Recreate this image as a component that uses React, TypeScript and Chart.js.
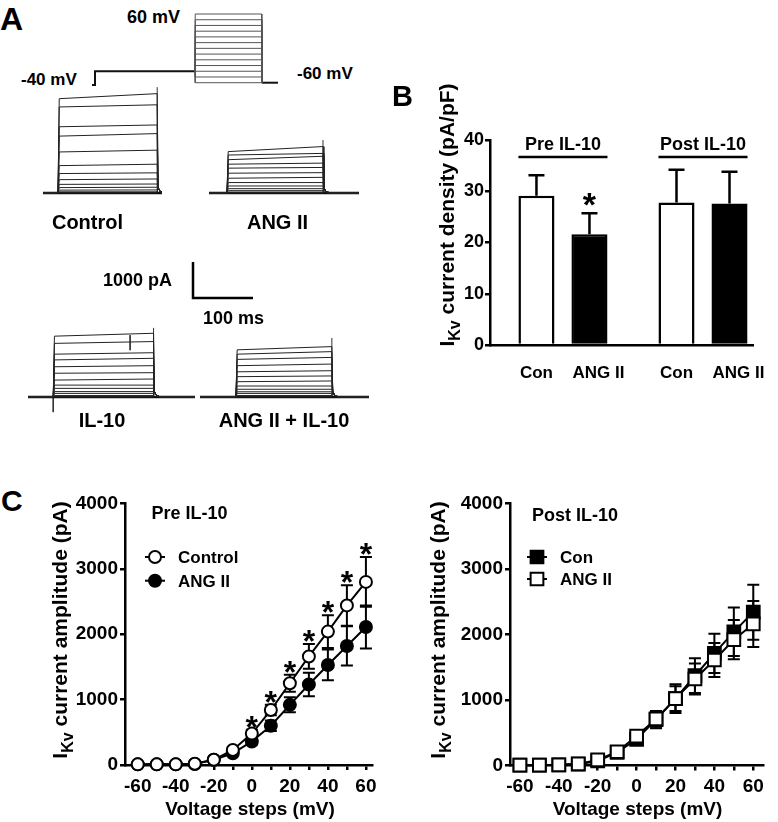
import React, { useEffect, useRef } from 'react';
import { Chart, registerables } from 'chart.js';

Chart.register(...registerables);

const FONT = '"Liberation Sans", Arial, Helvetica, sans-serif';
const bold = (s: number) => `bold ${s}px ${FONT}`;
Chart.defaults.font.family = FONT;
Chart.defaults.color = '#000';

// ---------------- Panel A : voltage protocol ----------------
const protocolStepsMv = [-60, -50, -40, -30, -20, -10, 0, 10, 20, 30, 40, 50, 60];
const protocolPhaseMs = [0, 5, 172, 283, 310]; // start, holding on, step on, step off, end
const protocolLevelsMv = [-64, -40, -60]; // pre, holding, tail

// ---------------- Panel A : current traces (pA) ----------------
const traceNames = ['Control', 'ANG II', 'IL-10', 'ANG II + IL-10'];
const traceControlStart = [2620, 2390, 1840, 1580, 1140, 760, 540, 370, 240, 150, 80, 30, 10];
const traceControlEnd = [2760, 2450, 1890, 1650, 1190, 800, 560, 390, 250, 160, 85, 30, 10];
const traceAngStart = [1150, 1055, 925, 800, 690, 550, 410, 290, 195, 120, 65, 20, 5];
const traceAngEnd = [1290, 1100, 1020, 830, 710, 565, 435, 290, 195, 120, 65, 20, 5];
const traceIl10Start = [1690, 1490, 1190, 1030, 840, 660, 470, 330, 240, 150, 100, 40, 10];
const traceIl10End = [1770, 1540, 1230, 1075, 870, 675, 500, 330, 240, 150, 100, 40, 10];
const traceAngIl10Start = [1310, 1190, 1045, 870, 700, 565, 425, 305, 215, 145, 100, 40, 10];
const traceAngIl10End = [1400, 1260, 1100, 915, 730, 585, 445, 305, 215, 145, 100, 40, 10];
const traceStartMs = [-25, -30, -42, -60];
const traceOffMs = [165, 160, 167, 160];
const traceEndMs = [173, 220, 236, 222];
const traceTailSpikePa = [2940, 1470, 1920, 1640];
const traceRiseMs = 2;
const traceTailMs = [1.5, 5, 12];
const traceTailPa = [150, 40, 0];
const il10ArtifactMs = [0, 128];
const il10ArtifactPa = [[0, -420], [1720, 1300]];
const scaleBarMs = 100;
const scaleBarPa = 1000;

// ---------------- Panel B : current density ----------------
const densityGroups = ['Pre IL-10', 'Post IL-10'];
const densityTreatments = ['Con', 'ANG II'];
const densityCon = [29.1, 27.8];
const densityConErr = [4.0, 6.4];
const densityAng = [21.6, 27.6];
const densityAngErr = [4.1, 6.2];
const densityAngStars = ['*', ''];
const densityTicks = [0, 10, 20, 30, 40];

// ---------------- Panel C : I-V curves ----------------
const voltageSteps = [-60, -50, -40, -30, -20, -10, 0, 10, 20, 30, 40, 50, 60];
const voltageTickLabels = ['-60', '', '-40', '', '-20', '', '0', '', '20', '', '40', '', '60'];
const currentTicks = [0, 1000, 2000, 3000, 4000];
const preControl = [10, 10, 10, 20, 80, 230, 480, 840, 1250, 1660, 2040, 2440, 2800];
const preControlErr = [5, 5, 5, 8, 20, 30, 60, 80, 130, 190, 250, 310, 380];
const preControlStars = ['', '', '', '', '', '', '*', '*', '*', '*', '*', '*', '*'];
const preAng = [10, 10, 10, 15, 80, 180, 360, 600, 920, 1230, 1530, 1820, 2110];
const preAngErr = [5, 5, 5, 8, 15, 30, 50, 80, 115, 180, 235, 300, 330];
const postCon = [5, 5, 10, 20, 70, 200, 400, 700, 1020, 1370, 1710, 2040, 2340];
const postConErr = [5, 5, 5, 10, 20, 30, 70, 130, 220, 265, 300, 370, 420];
const postAng = [5, 5, 10, 25, 85, 210, 450, 710, 1020, 1320, 1610, 1920, 2160];
const postAngErr = [5, 5, 5, 10, 20, 30, 60, 120, 190, 235, 260, 300, 350];

const AXIS_W = 2.5;

const baseOptions = () => ({
  responsive: false,
  animation: false,
  devicePixelRatio: 1,
  events: [],
  plugins: { legend: { display: false }, tooltip: { enabled: false } },
});

function drawIkvTitle(ctx: any, baseX: number, centerY: number, rest: string, size: number) {
  ctx.save();
  ctx.translate(baseX, centerY);
  ctx.rotate(-Math.PI / 2);
  ctx.fillStyle = '#000';
  ctx.textBaseline = 'alphabetic';
  ctx.textAlign = 'left';
  const main = bold(size);
  const sub = bold(Math.round(size * 0.75));
  ctx.font = main;
  const wI = ctx.measureText('I').width;
  const wRest = ctx.measureText(rest).width;
  ctx.font = sub;
  const wSub = ctx.measureText('Kv').width;
  let x = -(wI + wSub + wRest) / 2;
  ctx.font = main;
  ctx.fillText('I', x, 0);
  x += wI;
  ctx.font = sub;
  ctx.fillText('Kv', x, size * 0.28);
  x += wSub;
  ctx.font = main;
  ctx.fillText(rest, x, 0);
  ctx.restore();
}

function lineDs(points: any[], width: number, color = '#111') {
  return {
    data: points,
    showLine: true,
    borderColor: color,
    borderWidth: width,
    pointRadius: 0,
    tension: 0,
    clip: false,
  };
}

function protocolConfig(): any {
  const [t0, tHold, tOn, tOff, tEnd] = protocolPhaseMs;
  const [vPre, vHold, vTail] = protocolLevelsMv;
  const datasets: any[] = protocolStepsMv.map((v) =>
    lineDs(
      [
        { x: tOn, y: vHold },
        { x: tOn, y: v },
        { x: tOff, y: v },
        { x: tOff, y: vTail },
      ],
      1,
      '#555'
    )
  );
  datasets.push(
    lineDs(
      [
        { x: t0, y: vPre },
        { x: tHold, y: vPre },
        { x: tHold, y: vHold },
        { x: tOn, y: vHold },
      ],
      2
    )
  );
  datasets.push(lineDs([{ x: tOff, y: vTail }, { x: tEnd, y: vTail }], 2));
  return {
    type: 'scatter',
    data: { datasets },
    options: {
      ...baseOptions(),
      layout: { padding: { left: 4, top: 6, right: 6, bottom: 9 } },
      scales: {
        x: { type: 'linear', display: false, min: t0, max: tEnd },
        y: { type: 'linear', display: false, min: vPre, max: 60 },
      },
    },
  };
}

function traceConfig(k: number): any {
  const starts = [traceControlStart, traceAngStart, traceIl10Start, traceAngIl10Start][k];
  const ends = [traceControlEnd, traceAngEnd, traceIl10End, traceAngIl10End][k];
  const tPre = traceStartMs[k];
  const tOff = traceOffMs[k];
  const tEnd = traceEndMs[k];
  const datasets: any[] = starts.map((s, i) =>
    lineDs(
      [
        { x: tPre, y: 0 },
        { x: 0, y: 0 },
        { x: traceRiseMs, y: s },
        { x: tOff, y: ends[i] },
        ...traceTailMs.map((t, j) => ({ x: tOff + t, y: traceTailPa[j] })),
        { x: tEnd, y: 0 },
      ],
      1,
      '#222'
    )
  );
  datasets.push(lineDs([{ x: tPre, y: 0 }, { x: tEnd, y: 0 }], 2.5, '#111'));
  datasets.push(lineDs([{ x: tOff, y: 0 }, { x: tOff, y: traceTailSpikePa[k] }], 1, '#333'));
  if (traceNames[k] === 'IL-10') {
    il10ArtifactMs.forEach((t, j) => {
      datasets.push(
        lineDs([{ x: t, y: il10ArtifactPa[j][0] }, { x: t, y: il10ArtifactPa[j][1] }], 1, '#333')
      );
    });
  }
  return {
    type: 'scatter',
    data: { datasets },
    options: {
      ...baseOptions(),
      layout: { padding: 0 },
      scales: {
        x: { type: 'linear', display: false, min: tPre, max: tEnd },
        y: { type: 'linear', display: false, min: -500, max: 3000 },
      },
    },
  };
}

function scaleBarConfig(): any {
  return {
    type: 'scatter',
    data: {
      datasets: [
        lineDs(
          [
            { x: 0, y: scaleBarPa },
            { x: 0, y: 0 },
            { x: scaleBarMs, y: 0 },
          ],
          2.5,
          '#000'
        ),
      ],
    },
    options: {
      ...baseOptions(),
      layout: { padding: { left: 5, top: 6, right: 5, bottom: 6 } },
      scales: {
        x: { type: 'linear', display: false, min: 0, max: scaleBarMs },
        y: { type: 'linear', display: false, min: 0, max: scaleBarPa },
      },
    },
  };
}

const densityPlugin = {
  id: 'densityDecor',
  afterDatasetsDraw(chart: any, _a: any, o: any) {
    const { ctx } = chart;
    const ys = chart.scales.y;
    ctx.save();
    ctx.strokeStyle = '#000';
    ctx.fillStyle = '#000';
    ctx.lineWidth = 2.5;
    chart.data.datasets.forEach((ds: any, i: number) => {
      const meta = chart.getDatasetMeta(i);
      meta.data.forEach((bar: any, j: number) => {
        const v = ds.data[j].y;
        const yt = ys.getPixelForValue(v + ds.errors[j]);
        ctx.beginPath();
        ctx.moveTo(bar.x, bar.y);
        ctx.lineTo(bar.x, yt);
        ctx.moveTo(bar.x - 8, yt);
        ctx.lineTo(bar.x + 8, yt);
        ctx.stroke();
        if (ds.stars && ds.stars[j]) {
          ctx.font = bold(34);
          ctx.textAlign = 'center';
          ctx.textBaseline = 'alphabetic';
          ctx.fillText(ds.stars[j], bar.x, yt - 17 + 34 * 0.57);
        }
        ctx.font = bold(17);
        ctx.textAlign = 'center';
        ctx.textBaseline = 'alphabetic';
        ctx.fillText(ds.label, bar.x + (i === 1 ? o.secondLabelShift : 0), o.labelBase);
      });
    });
    const m0 = chart.getDatasetMeta(0);
    const m1 = chart.getDatasetMeta(1);
    densityGroups.forEach((g, j) => {
      const l = m0.data[j].x - m0.data[j].width / 2;
      const r = m1.data[j].x + m1.data[j].width / 2;
      ctx.lineWidth = 2.5;
      ctx.beginPath();
      ctx.moveTo(l, o.groupLineY);
      ctx.lineTo(r, o.groupLineY);
      ctx.stroke();
      ctx.font = bold(18);
      ctx.textAlign = 'center';
      ctx.fillText(g, (l + r) / 2, o.groupTextBase);
    });
    ctx.restore();
    drawIkvTitle(ctx, o.titleX, o.titleY, ' current density (pA/pF)', 21);
  },
};

function densityConfig(): any {
  const mk = (label: string, vals: number[], errs: number[], fill: string, stars: string[]) => ({
    label,
    data: densityGroups.map((_, i) => ({ x: i, y: vals[i] })),
    errors: errs,
    stars,
    backgroundColor: fill,
    borderColor: '#000',
    borderWidth: 2.5,
    borderSkipped: 'start',
    categoryPercentage: 0.757,
    barPercentage: 0.68,
  });
  return {
    type: 'bar',
    data: {
      datasets: [
        mk(densityTreatments[0], densityCon, densityConErr, '#fff', ['', '']),
        mk(densityTreatments[1], densityAng, densityAngErr, '#000', densityAngStars),
      ],
    },
    options: {
      ...baseOptions(),
      layout: { padding: { left: 0, top: 60, right: 25, bottom: 0 } },
      scales: {
        x: {
          type: 'linear',
          offset: false,
          min: -0.521,
          max: 1.357,
          afterBuildTicks: (s: any) => {
            s.ticks = densityGroups.map((_, i) => ({ value: i }));
          },
          ticks: { display: false },
          grid: { display: false },
          border: { display: true, color: '#000', width: AXIS_W },
          afterFit: (s: any) => {
            s.height = 45;
          },
        },
        y: {
          type: 'linear',
          min: 0,
          max: 40,
          afterBuildTicks: (s: any) => {
            s.ticks = densityTicks.map((v) => ({ value: v }));
          },
          ticks: { font: { size: 18, weight: 'bold' }, color: '#000', padding: 1, callback: (v: any) => String(v) },
          grid: { display: true, drawOnChartArea: false, drawTicks: true, tickLength: 5, color: '#000', lineWidth: AXIS_W },
          border: { display: true, color: '#000', width: AXIS_W },
          afterFit: (s: any) => {
            s.width = 100;
          },
        },
      },
      plugins: {
        ...baseOptions().plugins,
        densityDecor: {
          labelBase: 297.5,
          secondLabelShift: 9,
          groupLineY: 77,
          groupTextBase: 69.5,
          titleX: 64,
          titleY: 135,
        },
      },
    },
    plugins: [densityPlugin],
  };
}

const ivPlugin = {
  id: 'ivDecor',
  beforeDatasetsDraw(chart: any) {
    const { ctx } = chart;
    const ys = chart.scales.y;
    ctx.save();
    ctx.strokeStyle = '#000';
    ctx.lineWidth = 2;
    chart.data.datasets.forEach((ds: any, i: number) => {
      const meta = chart.getDatasetMeta(i);
      meta.data.forEach((pt: any, j: number) => {
        const v = ds.data[j].y;
        const e = ds.errors[j];
        const yt = ys.getPixelForValue(v + e);
        const yb = ys.getPixelForValue(v - e);
        ctx.beginPath();
        ctx.moveTo(pt.x, yt);
        ctx.lineTo(pt.x, yb);
        ctx.moveTo(pt.x - 6, yt);
        ctx.lineTo(pt.x + 6, yt);
        ctx.moveTo(pt.x - 6, yb);
        ctx.lineTo(pt.x + 6, yb);
        ctx.stroke();
      });
    });
    ctx.restore();
  },
  afterDatasetsDraw(chart: any, _a: any, o: any) {
    const { ctx } = chart;
    const ys = chart.scales.y;
    ctx.save();
    ctx.fillStyle = '#000';
    ctx.textAlign = 'center';
    ctx.textBaseline = 'alphabetic';
    ctx.font = bold(32);
    chart.data.datasets.forEach((ds: any, i: number) => {
      if (!ds.stars) return;
      const meta = chart.getDatasetMeta(i);
      meta.data.forEach((pt: any, j: number) => {
        if (!ds.stars[j]) return;
        const yt = ys.getPixelForValue(ds.data[j].y + ds.errors[j]);
        ctx.fillText(ds.stars[j], pt.x, yt - 10 + 32 * 0.57);
      });
    });
    chart.data.datasets.forEach((ds: any, i: number) => {
      const y = o.legendRows[i];
      ctx.strokeStyle = '#000';
      ctx.lineWidth = 2;
      ctx.beginPath();
      ctx.moveTo(o.legendLine[0], y);
      ctx.lineTo(o.legendLine[1], y);
      ctx.stroke();
      const mx = (o.legendLine[0] + o.legendLine[1]) / 2;
      ctx.fillStyle = ds.pointBackgroundColor;
      ctx.beginPath();
      if (ds.pointStyle === 'circle') ctx.arc(mx, y, ds.pointRadius, 0, Math.PI * 2);
      else {
        const h = ds.pointRadius * Math.SQRT1_2;
        ctx.rect(mx - h, y - h, 2 * h, 2 * h);
      }
      ctx.fill();
      ctx.stroke();
      ctx.fillStyle = '#000';
      ctx.font = bold(17);
      ctx.textAlign = 'left';
      ctx.fillText(ds.label, o.legendTextX, y + 17 * 0.358);
    });
    ctx.font = bold(18);
    ctx.textAlign = 'center';
    ctx.fillText(o.title, o.titleX, o.titleBase);
    ctx.font = bold(19);
    ctx.fillText('Voltage steps (mV)', o.xTitleX, o.xTitleBase);
    ctx.restore();
    drawIkvTitle(ctx, o.yTitleX, o.yTitleY, ' current amplitude (pA)', 21);
  },
};

function ivConfig(side: 'pre' | 'post'): any {
  const mk = (label: string, vals: number[], errs: number[], shape: string, filled: boolean, order: number, stars?: string[]) => ({
    label,
    data: voltageSteps.map((v, i) => ({ x: v, y: vals[i] })),
    errors: errs,
    stars,
    showLine: true,
    borderColor: '#000',
    borderWidth: 2,
    tension: 0,
    pointStyle: shape,
    pointRadius: shape === 'circle' ? 6 : 9,
    pointBackgroundColor: filled ? '#000' : '#fff',
    pointBorderColor: '#000',
    pointBorderWidth: 2,
    order,
    clip: false,
  });
  const pre = side === 'pre';
  const datasets = pre
    ? [
        mk('Control', preControl, preControlErr, 'circle', false, 1, preControlStars),
        mk('ANG II', preAng, preAngErr, 'circle', true, 2),
      ]
    : [mk('Con', postCon, postConErr, 'rect', true, 2), mk('ANG II', postAng, postAngErr, 'rect', false, 1)];
  const tickFont = { size: 19, weight: 'bold' };
  return {
    type: 'scatter',
    data: { datasets },
    options: {
      ...baseOptions(),
      layout: { padding: { left: 0, top: 12, right: pre ? 18 : 15, bottom: 0 } },
      scales: {
        x: {
          type: 'linear',
          min: pre ? -66.7 : -65.1,
          max: pre ? 63.2 : 65,
          afterBuildTicks: (s: any) => {
            s.ticks = voltageSteps.map((v) => ({ value: v }));
          },
          ticks: {
            font: tickFont,
            color: '#000',
            padding: 5,
            maxRotation: 0,
            autoSkip: false,
            callback: (_v: any, i: number) => voltageTickLabels[i],
          },
          grid: { display: true, drawOnChartArea: false, drawTicks: true, tickLength: 5, color: '#000', lineWidth: AXIS_W },
          border: { display: true, color: '#000', width: AXIS_W },
          afterFit: (s: any) => {
            s.height = pre ? 57 : 56.5;
          },
        },
        y: {
          type: 'linear',
          min: 0,
          max: 4000,
          afterBuildTicks: (s: any) => {
            s.ticks = currentTicks.map((v) => ({ value: v }));
          },
          ticks: { font: tickFont, color: '#000', padding: 2, callback: (v: any) => String(v) },
          grid: { display: true, drawOnChartArea: false, drawTicks: true, tickLength: 5, color: '#000', lineWidth: AXIS_W },
          border: { display: true, color: '#000', width: AXIS_W },
          afterFit: (s: any) => {
            s.width = pre ? 125 : 120;
          },
        },
      },
      plugins: {
        ...baseOptions().plugins,
        ivDecor: pre
          ? {
              legendRows: [67, 90.7],
              legendLine: [145, 165],
              legendTextX: 178,
              title: 'Pre IL-10',
              titleX: 189.5,
              titleBase: 29,
              xTitleX: 250,
              xTitleBase: 325,
              yTitleX: 67,
              yTitleY: 140,
            }
          : {
              legendRows: [67, 89],
              legendLine: [137, 157],
              legendTextX: 170,
              title: 'Post IL-10',
              titleX: 185,
              titleBase: 31,
              xTitleX: 247.5,
              xTitleBase: 325,
              yTitleX: 55,
              yTitleY: 140,
            },
      },
    },
    plugins: [ivPlugin],
  };
}

function ChartBox({ left, top, width, height, make }: { left: number; top: number; width: number; height: number; make: () => any }) {
  const ref = useRef<HTMLCanvasElement>(null);
  useEffect(() => {
    const chart = new Chart(ref.current as HTMLCanvasElement, make());
    return () => chart.destroy();
  }, []);
  return (
    <canvas
      ref={ref}
      width={width}
      height={height}
      style={{ position: 'absolute', left, top, width, height, display: 'block' }}
    />
  );
}

function Txt({ x, base, size, text, center }: { x: number; base: number; size: number; text: string; center?: boolean }) {
  return (
    <div
      style={{
        position: 'absolute',
        left: x,
        top: base - 0.8465 * size,
        font: bold(size),
        lineHeight: `${size}px`,
        whiteSpace: 'nowrap',
        color: '#000',
        transform: center ? 'translateX(-50%)' : undefined,
      }}
    >
      {text}
    </div>
  );
}

const traceBoxes = [
  { left: 43, top: 85, width: 119 },
  { left: 209, top: 85, width: 150 },
  { left: 28, top: 289, width: 167 },
  { left: 200, top: 289, width: 169 },
];
const traceLabelPos = [
  { x: 87.5, base: 229 },
  { x: 277.5, base: 229 },
  { x: 102, base: 427 },
  { x: 284, base: 427 },
];

export default function App() {
  return (
    <div style={{ position: 'absolute', left: 0, top: 0, width: 778, height: 822, background: '#fff', overflow: 'hidden' }}>
      <Txt x={0} base={30} size={32} text="A" />
      <Txt x={127} base={23.5} size={18} text="60 mV" />
      <Txt x={21} base={85} size={17} text="-40 mV" />
      <Txt x={297} base={79.5} size={17} text="-60 mV" />
      <ChartBox left={88} top={8} width={196} height={86} make={protocolConfig} />
      {traceBoxes.map((b, k) => (
        <ChartBox key={k} left={b.left} top={b.top} width={b.width} height={126} make={() => traceConfig(k)} />
      ))}
      {traceNames.map((n, k) => (
        <Txt key={n} x={traceLabelPos[k].x} base={traceLabelPos[k].base} size={20} text={n} center />
      ))}
      <ChartBox left={188} top={256} width={70} height={48} make={scaleBarConfig} />
      <Txt x={103} base={286.5} size={18} text="1000 pA" />
      <Txt x={203} base={324.5} size={18} text="100 ms" />

      <Txt x={392} base={107} size={29} text="B" />
      <ChartBox left={390} top={80} width={388} height={310} make={densityConfig} />

      <Txt x={1} base={511} size={30} text="C" />
      <ChartBox left={0} top={490} width={390} height={332} make={() => ivConfig('pre')} />
      <ChartBox left={390} top={490} width={388} height={332} make={() => ivConfig('post')} />
    </div>
  );
}
